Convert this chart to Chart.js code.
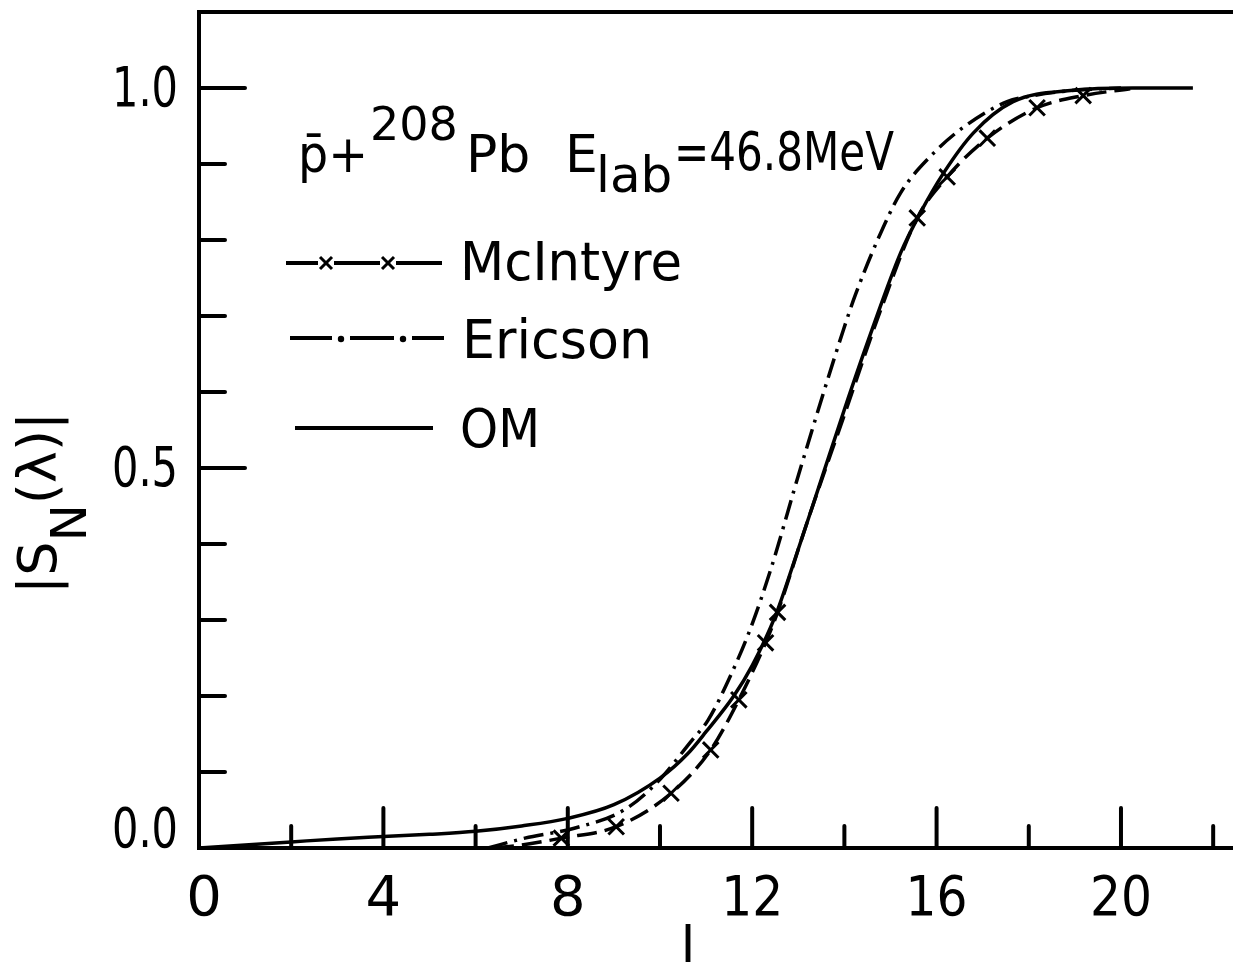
<!DOCTYPE html>
<html>
<head>
<meta charset="utf-8">
<title>|S_N(λ)| vs l</title>
<script src="https://cdn.jsdelivr.net/npm/chart.js@4.4.1/dist/chart.umd.min.js"></script>
<style>
  html, body { margin: 0; padding: 0; background: #fff; }
  canvas { display: block; }
</style>
</head>
<body>
<canvas id="smatrixChart" width="1233" height="962"></canvas>
<script>
// Optical model (solid)
const omL = [0, 1, 2, 3, 4, 5, 6, 7, 8, 9, 10, 10.6, 11, 11.6, 12, 12.5, 12.9, 13.5, 14, 14.6, 15.22, 15.65, 16.15, 16.8, 17.66, 18.96, 20.26, 21.56];
const omV = [0, 0.004, 0.008, 0.012, 0.015, 0.018, 0.022, 0.029, 0.039, 0.057, 0.092, 0.124, 0.153, 0.2, 0.24, 0.305, 0.375, 0.485, 0.577, 0.682, 0.783, 0.836, 0.888, 0.941, 0.982, 0.997, 1.0, 1.0];

// Ericson (dash-dot)
const ericsonL = [6.27, 7.07, 8.14, 9.22, 9.95, 10.67, 11.04, 11.54, 11.97, 12.4, 13.05, 13.98, 14.24, 14.72, 15.22, 15.93, 16.62, 17.53, 18.1, 19.0, 20.0];
const ericsonV = [0, 0.013, 0.026, 0.05, 0.087, 0.14, 0.168, 0.228, 0.29, 0.366, 0.5, 0.682, 0.728, 0.80, 0.862, 0.914, 0.95, 0.982, 0.99, 0.997, 1.0];

// McIntyre (dashed with crosses)
const mcIntyreL = [6.4, 7.0, 7.86, 9.05, 10.24, 11.1, 11.71, 12.29, 12.55, 13.2, 14.0, 14.8, 15.58, 16.23, 17.1, 18.18, 19.18, 20.2];
const mcIntyreV = [0, 0.004, 0.013, 0.028, 0.072, 0.129, 0.195, 0.27, 0.31, 0.43, 0.57, 0.71, 0.829, 0.883, 0.934, 0.974, 0.99, 0.999];
const mcIntyreMarkL = [7.86, 9.05, 10.24, 11.1, 11.71, 12.29, 12.55, 15.58, 16.23, 17.1, 18.18, 19.18];
const mcIntyreMarkV = [0.013, 0.028, 0.072, 0.129, 0.195, 0.27, 0.31, 0.829, 0.883, 0.934, 0.974, 0.99];

// axes
const xTickValues = [2, 4, 6, 8, 10, 12, 14, 16, 18, 20, 22];
const xLabelValues = [0, 4, 8, 12, 16, 20];
const xLabels = ["0", "4", "8", "12", "16", "20"];
const yTickValues = [0.1, 0.2, 0.3, 0.4, 0.5, 0.6, 0.7, 0.8, 0.9, 1.0];
const yLabelValues = [0, 0.5, 1.0];
const yLabels = ["0.0", "0.5", "1.0"];

const legendNames = ["McIntyre", "Ericson", "OM"];

const FONT = '"DejaVu Sans", "Liberation Sans", sans-serif';

function toPoints(xs, ys) {
  return xs.map((x, i) => ({ x: x, y: ys[i] }));
}

function put(ctx, str, x, y, size, maxWidth, align) {
  ctx.font = size + "px " + FONT;
  ctx.textAlign = align || "left";
  ctx.textBaseline = "alphabetic";
  if (maxWidth) ctx.fillText(str, x, y, maxWidth);
  else ctx.fillText(str, x, y);
  const w = ctx.measureText(str).width;
  return maxWidth ? Math.min(w, maxWidth) : w;
}

function seg(ctx, x1, y1, x2, y2) {
  ctx.beginPath();
  ctx.moveTo(x1, y1);
  ctx.lineTo(x2, y2);
  ctx.stroke();
}

function cross(ctx, x, y, r) {
  seg(ctx, x - r, y - r, x + r, y + r);
  seg(ctx, x - r, y + r, x + r, y - r);
}

// frame top, inward tick marks, labels, legend and headline
const decorations = {
  id: "decorations",
  afterDraw(chart) {
    const { ctx, chartArea: area } = chart;
    const xs = chart.scales.x;
    const ys = chart.scales.y;
    ctx.save();
    ctx.strokeStyle = "#000";
    ctx.fillStyle = "#000";
    ctx.lineCap = "round";

    ctx.lineWidth = 4;
    seg(ctx, area.left, area.top, area.right, area.top);

    xTickValues.forEach((v) => {
      const px = xs.getPixelForValue(v);
      const len = v % 4 === 0 ? 40 : 22;
      seg(ctx, px, area.bottom, px, area.bottom - len);
    });
    yTickValues.forEach((v) => {
      const py = ys.getPixelForValue(v);
      const major = Math.abs(v * 2 - Math.round(v * 2)) < 1e-6;
      seg(ctx, area.left, py, area.left + (major ? 46 : 26), py);
    });

    xLabelValues.forEach((v, i) => {
      const px = xs.getPixelForValue(v);
      put(ctx, xLabels[i], px + (v === 0 ? 5 : 0), 915, 56, xLabels[i].length > 1 ? 62 : 0, "center");
    });
    yLabelValues.forEach((v, i) => {
      const py = ys.getPixelForValue(v);
      put(ctx, yLabels[i], 178, Math.min(py + 18, area.bottom - 1), 55, 66, "right");
    });

    // axis titles
    put(ctx, "l", 688, 965, 54, 0, "center");
    ctx.save();
    ctx.translate(56, 594);
    ctx.rotate(-Math.PI / 2);
    let w = put(ctx, "|S", 0, 0, 54);
    w += put(ctx, "N", w, 30, 50);
    put(ctx, "(\u03bb)|", w, 0, 54);
    ctx.restore();

    // headline
    put(ctx, "p\u0304+", 298, 172, 52, 70);
    put(ctx, "208", 370, 140, 46, 92);
    put(ctx, "Pb", 466, 172, 52, 66);
    put(ctx, "E", 565, 172, 52);
    put(ctx, "lab", 596, 192, 50, 78);
    put(ctx, "=46.8MeV", 674, 170, 54, 220);

    // legend
    ctx.lineWidth = 4;
    ctx.lineCap = "butt";
    seg(ctx, 286, 263, 318, 263);
    seg(ctx, 334, 263, 380, 263);
    seg(ctx, 396, 263, 442, 263);
    ctx.lineWidth = 3;
    cross(ctx, 326, 263, 6);
    cross(ctx, 388, 263, 6);

    ctx.lineWidth = 4;
    seg(ctx, 290, 338, 332, 338);
    seg(ctx, 350, 338, 394, 338);
    seg(ctx, 412, 338, 444, 338);
    [341, 403].forEach((dx) => {
      ctx.beginPath();
      ctx.arc(dx, 339, 3.2, 0, Math.PI * 2);
      ctx.fill();
    });

    seg(ctx, 295, 428, 433, 428);

    put(ctx, legendNames[0], 460, 280, 54, 222);
    put(ctx, legendNames[1], 462, 358, 54, 190);
    put(ctx, legendNames[2], 460, 447, 54, 80);

    ctx.restore();
  },
};

const ctx = document.getElementById("smatrixChart").getContext("2d");
const chart = new Chart(ctx, {
  type: "line",
  data: {
    datasets: [
      {
        label: "OM",
        data: toPoints(omL, omV),
        borderColor: "#000",
        borderWidth: 3.5,
        pointRadius: 0,
        cubicInterpolationMode: "monotone",
        fill: false,
      },
      {
        label: "Ericson",
        data: toPoints(ericsonL, ericsonV),
        borderColor: "#000",
        borderWidth: 3.5,
        borderDash: [20, 7, 3, 7],
        pointRadius: 0,
        cubicInterpolationMode: "monotone",
        fill: false,
      },
      {
        label: "McIntyre",
        data: toPoints(mcIntyreL, mcIntyreV),
        borderColor: "#000",
        borderWidth: 3.5,
        borderDash: [20, 8],
        pointRadius: 0,
        cubicInterpolationMode: "monotone",
        fill: false,
      },
      {
        label: "McIntyre points",
        data: toPoints(mcIntyreMarkL, mcIntyreMarkV),
        showLine: false,
        borderColor: "#000",
        pointStyle: "crossRot",
        pointRadius: 11,
        pointBorderWidth: 3,
        pointBorderColor: "#000",
      },
    ],
  },
  options: {
    responsive: false,
    animation: false,
    devicePixelRatio: 1,
    layout: { autoPadding: false, padding: { left: 199, right: 0, top: 12, bottom: 114 } },
    plugins: {
      legend: { display: false },
      tooltip: { enabled: false },
    },
    scales: {
      x: {
        type: "linear",
        min: 0,
        max: 22.43,
        grid: { display: false, drawTicks: false },
        ticks: { display: false },
        border: { display: true, width: 4, color: "#000" },
      },
      y: {
        type: "linear",
        min: 0,
        max: 1.1,
        grid: { display: false, drawTicks: false },
        ticks: { display: false },
        border: { display: true, width: 4, color: "#000" },
      },
    },
  },
  plugins: [decorations],
});
</script>
</body>
</html>
